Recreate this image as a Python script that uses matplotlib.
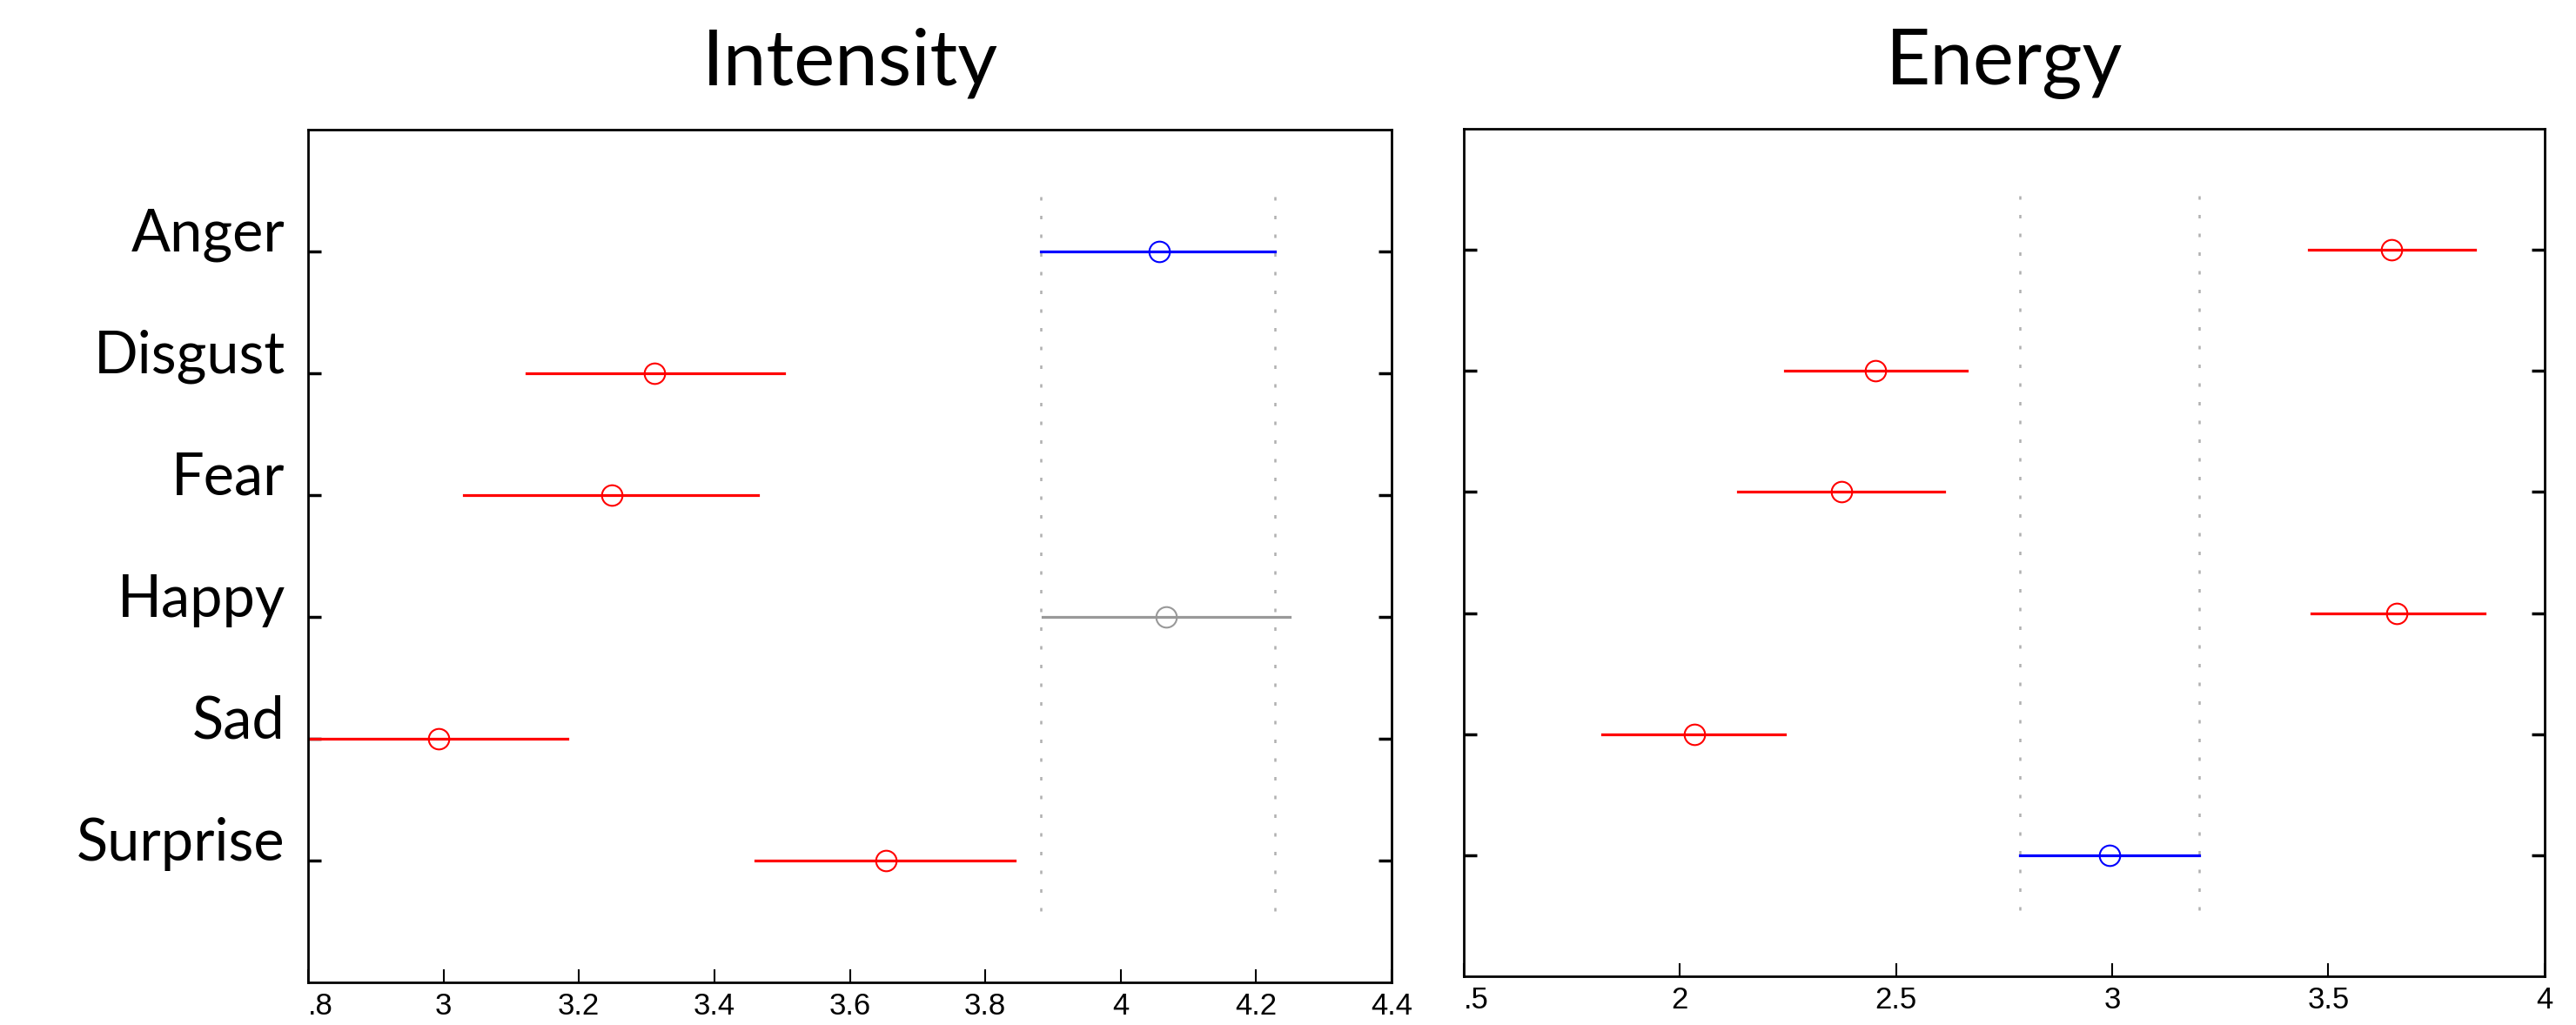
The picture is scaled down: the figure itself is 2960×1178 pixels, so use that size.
import matplotlib.pyplot as plt

emotions = ['Anger', 'Disgust', 'Fear', 'Happy', 'Sad', 'Surprise']

# Intensity: group means with comparison intervals
intMean = [4.057, 3.311, 3.248, 4.067, 2.993, 3.653]
intLow = [3.882, 3.122, 3.030, 3.885, 2.803, 3.461]
intHigh = [4.228, 3.503, 3.465, 4.250, 3.183, 3.843]
intColors = ['blue', 'red', 'red', '#999999', 'red', 'red']
intTicks = [2.8, 3.0, 3.2, 3.4, 3.6, 3.8, 4.0, 4.2, 4.4]
intTickLabels = ['.8', '3', '3.2', '3.4', '3.6', '3.8', '4', '4.2', '4.4']

# Energy
enMean = [3.646, 2.453, 2.374, 3.658, 2.034, 2.993]
enLow = [3.455, 2.244, 2.135, 3.461, 1.820, 2.786]
enHigh = [3.840, 2.663, 2.611, 3.862, 2.244, 3.201]
enColors = ['red', 'red', 'red', 'red', 'red', 'blue']
enTicks = [1.5, 2.0, 2.5, 3.0, 3.5, 4.0]
enTickLabels = ['.5', '2', '2.5', '3', '3.5', '4']

labelFont = ['Lato', 'DejaVu Sans']
tickFont = ['Liberation Sans', 'DejaVu Sans']


def drawPanel(ax, title, means, lows, highs, colors, ref, xlim, ticks, tickLabels, showNames):
    ypos = list(range(1, len(means) + 1))
    # reference interval of the selected group
    for xv in [lows[ref], highs[ref]]:
        ax.plot([xv, xv], [0.55, 6.5], color='#b0b0b0', lw=1.8, dashes=(1.6, 7), zorder=1)
    for i in range(len(means)):
        ax.plot([lows[i], highs[i]], [ypos[i], ypos[i]], color=colors[i], lw=2.3, zorder=2)
        ax.plot(means[i], ypos[i], 'o', mfc='none', mec=colors[i], ms=17, mew=1.5, zorder=3)

    ax.set_xlim(xlim)
    ax.set_ylim(7, 0)
    ax.set_xticks(ticks)
    ax.set_xticklabels(tickLabels, family=tickFont, fontsize=25)
    ax.get_xticklabels()[0].set_ha('left')
    ax.set_yticks(ypos)
    if showNames:
        ax.set_yticklabels(emotions, family=labelFont, fontsize=48)
        for lab in ax.get_yticklabels():
            lab.set_va('baseline')
    else:
        ax.set_yticklabels([])
    ax.tick_params(axis='x', direction='in', length=11, width=1.5, pad=8, top=False)
    ax.tick_params(axis='y', direction='in', length=11, width=2.5, pad=19, right=True)
    for sp in ax.spines.values():
        sp.set_linewidth(2)
    ax.set_title(title, family=labelFont, fontsize=64, pad=37)


fig = plt.figure(figsize=(29.6, 11.78), dpi=100)
ax1 = fig.add_axes([0.1196, 0.0416, 0.4206, 0.832])
ax2 = fig.add_axes([0.5682, 0.0475, 0.4196, 0.8268])

drawPanel(ax1, 'Intensity', intMean, intLow, intHigh, intColors, 0, (2.8, 4.4), intTicks, intTickLabels, True)
drawPanel(ax2, 'Energy', enMean, enLow, enHigh, enColors, 5, (1.5, 4.0), enTicks, enTickLabels, False)

fig.savefig('out.png', dpi=100)
